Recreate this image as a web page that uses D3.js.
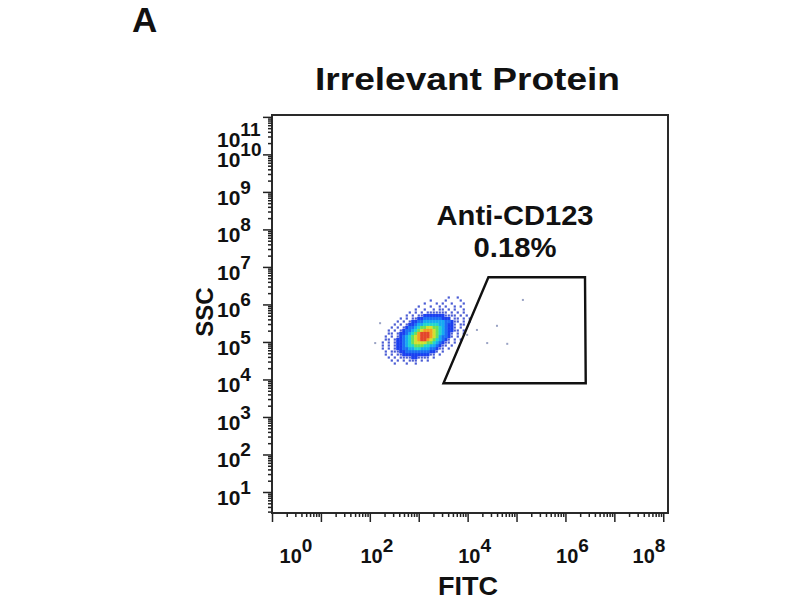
<!DOCTYPE html>
<html><head><meta charset="utf-8">
<script src="https://cdn.jsdelivr.net/npm/d3@7"></script>
<style>
body{margin:0;background:#fff;}
svg{display:block;}
text{font-family:"Liberation Sans",Arial,sans-serif;font-weight:bold;fill:#111;}
</style>
</head><body>
<svg id="chart" width="800" height="600"></svg>
<script>
// ---------- data ----------
const panelLabel = "A";
const chartTitle = "Irrelevant Protein";
const xAxisTitle = "FITC";
const yAxisTitle = "SSC";
const gateName = "Anti-CD123";
const gatePercent = "0.18%";
const xMajorExps = [0,1,2,3,4,5,6,7,8];
const xLabelExps = [0,2,4,6,8];
const yMajorExps = [1,2,3,4,5,6,7,8,9,10,11];
const yLabelExps = [1,2,3,4,5,6,7,8,9,10,11];
// gate vertices in log10 units (FITC, SSC)
const gateLogX = [4.425, 6.40, 6.415, 3.506];
const gateLogY = [6.725, 6.725, 3.899, 3.899];
// density grid (event density level 0-9), top-left cell at log10 (FITC, SSC)
const gridOriginLog = [2.049, 6.227];
const gridStepLog = [0.0613, 0.08];
const densityRows = [
  ".........................1..1.....",
  "...................1....1....1....",
  ".................1...1.1..1...1...",
  "...............1...1..1.1..1.1....",
  "..............1..1..1.11.1.1..1...",
  "............1.1.1.1111111.1.1.1...",
  "...........1.1.1122222221111.1.1..",
  ".........1.1.1122333333222.11.1.1.",
  "........1.1.12233444444433211.1.1.",
  ".......1.1.12234455555443221.11...",
  "......1.1.123345667766543221.1....",
  ".....1.1.12334567888765432211.1...",
  ".....11.1223456899987654321.1.1...",
  "....1.1.1234567899987643321.1.....",
  "....11.1223456789987654321.1.1....",
  "...1.1.1223456777766543211.1......",
  "...1.1.122345566655443211.1.......",
  "...1.1.12233445544433211.1........",
  "....1.1112233333333221.1..........",
  "....1.1.1122222222211.1...........",
  ".....1.1.1111221111.1.............",
  "......1.1.1.111.1.1...............",
  ".......1...1..1..................."
];
// isolated events (log10 FITC, log10 SSC)
const outlierLogX = [5.13, 4.60, 4.40, 4.81, 4.19, 3.99, 2.11, 2.21];
const outlierLogY = [6.12, 5.43, 4.97, 4.95, 5.32, 5.19, 4.97, 5.50];

// ---------- chart ----------
const svg = d3.select("#chart");
const L = 272, R = 668, T = 115, B = 513;
const x = d3.scaleLog().domain([1, Math.pow(10, 8.097)]).range([L, R]);
const y = d3.scaleLog().domain([Math.pow(10, 0.44), Math.pow(10, 11.05)]).range([B, T]);
const p10 = e => Math.pow(10, e);

const defs = svg.append("defs");
defs.append("clipPath").attr("id", "clip").append("rect")
  .attr("x", L).attr("y", T).attr("width", R - L).attr("height", B - T);
defs.append("filter").attr("id", "soft").attr("x", "-10%").attr("y", "-10%").attr("width", "120%").attr("height", "120%")
  .append("feGaussianBlur").attr("stdDeviation", 0.7);

const levelColor = d3.scaleOrdinal()
  .domain([1,2,3,4,5,6,7,8,9])
  .range(["#2a40cc","#1a3ff0","#1c6ef4","#18aaf2","#22d6cc","#6ae05a","#d2e02e","#f2a024","#e4462a"]);

// cells
const cells = [];
densityRows.forEach((row, r) => {
  for (let c = 0; c < row.length; c++) {
    const ch = row[c];
    if (ch >= "1" && ch <= "9") {
      cells.push({lx: gridOriginLog[0] + c * gridStepLog[0], ly: gridOriginLog[1] - r * gridStepLog[1], level: +ch});
    }
  }
});
cells.sort((a, b) => a.level - b.level);

const plot = svg.append("g").attr("clip-path", "url(#clip)");
const cloud = plot.append("g").attr("filter", "url(#soft)");
cloud.selectAll("rect.cell").data(cells).enter().append("rect")
  .attr("class", "cell")
  .attr("x", d => x(p10(d.lx)) + (d.level === 1 ? 0.5 : 0))
  .attr("y", d => y(p10(d.ly)) + (d.level === 1 ? 0.5 : 0))
  .attr("width", d => d.level === 1 ? 2.2 : x(p10(d.lx + gridStepLog[0])) - x(p10(d.lx)) + 0.3)
  .attr("height", d => d.level === 1 ? 2.2 : y(p10(d.ly - gridStepLog[1])) - y(p10(d.ly)) + 0.3)
  .attr("fill", d => levelColor(d.level))
  .attr("fill-opacity", d => d.level === 1 ? 0.85 : 1);

const outliers = outlierLogX.map((v, i) => ({lx: v, ly: outlierLogY[i]}));
plot.selectAll("rect.out").data(outliers).enter().append("rect")
  .attr("class", "out")
  .attr("x", d => x(p10(d.lx)) - 1).attr("y", d => y(p10(d.ly)) - 1)
  .attr("width", 2).attr("height", 2)
  .attr("fill", "#9aa3c4");

// gate
const gatePts = gateLogX.map((v, i) => [x(p10(v)), y(p10(gateLogY[i]))]);
plot.append("path")
  .attr("d", d3.line()(gatePts) + "Z")
  .attr("fill", "none").attr("stroke", "#111").attr("stroke-width", 2.4)
  .attr("stroke-linejoin", "miter");

// frame
svg.append("rect").attr("x", L).attr("y", T).attr("width", R - L).attr("height", B - T)
  .attr("fill", "none").attr("stroke", "#2a2a2a").attr("stroke-width", 2);

// ticks
function minorVals(scale, maxExp) {
  const [d0, d1] = scale.domain();
  const out = [];
  for (let e = -1; e <= maxExp; e++) for (let k = 2; k <= 9; k++) {
    const v = k * p10(e);
    if (v >= d0 && v <= d1) out.push(v);
  }
  return out;
}
function styleAxis(g) {
  g.select(".domain").remove();
  g.selectAll(".tick line").attr("stroke", "#222").attr("stroke-width", 1.5);
}
svg.append("g").attr("transform", `translate(0,${B})`)
  .call(d3.axisBottom(x).tickValues(xMajorExps.map(p10)).tickSize(9).tickFormat(""))
  .call(styleAxis);
svg.append("g").attr("transform", `translate(0,${B})`)
  .call(d3.axisBottom(x).tickValues(minorVals(x, 8)).tickSize(4).tickFormat(""))
  .call(styleAxis);
svg.append("g").attr("transform", `translate(${L},0)`)
  .call(d3.axisLeft(y).tickValues(yMajorExps.map(p10)).tickSize(9).tickFormat(""))
  .call(styleAxis);
svg.append("g").attr("transform", `translate(${L},0)`)
  .call(d3.axisLeft(y).tickValues(minorVals(y, 11)).tickSize(4).tickFormat(""))
  .call(styleAxis);

// tick labels
function powLabel(sel, e, supSize) {
  sel.append("tspan").text("10");
  sel.append("tspan").attr("dy", -11).attr("font-size", supSize).text(String(e));
}
xLabelExps.forEach(e => {
  const cx = Math.max(296, Math.min(649, x(p10(e)) + 7));
  const t = svg.append("text").attr("x", cx).attr("y", 563)
    .attr("text-anchor", "middle").attr("font-size", 20);
  powLabel(t, e, 19);
});
yLabelExps.forEach(e => {
  const by = Math.max(y(p10(e)) + 13, 147);
  const t = svg.append("text").attr("x", 217).attr("y", by)
    .attr("text-anchor", "start").attr("font-size", 21);
  powLabel(t, e, 19);
});

// titles
svg.append("text").attr("x", 132).attr("y", 32).attr("font-size", 35).text(panelLabel);
svg.append("text").attr("x", 467.5).attr("y", 90).attr("text-anchor", "middle")
  .attr("font-size", 32).attr("textLength", 305).attr("lengthAdjust", "spacingAndGlyphs").text(chartTitle);
svg.append("text").attr("x", 468).attr("y", 595).attr("text-anchor", "middle")
  .attr("font-size", 26).attr("textLength", 60).attr("lengthAdjust", "spacingAndGlyphs").text(xAxisTitle);
svg.append("text").attr("transform", "translate(213,312) rotate(-90)").attr("text-anchor", "middle")
  .attr("font-size", 24).text(yAxisTitle);
svg.append("text").attr("x", x(p10(4.97))).attr("y", 225).attr("text-anchor", "middle")
  .attr("font-size", 28).attr("textLength", 157).attr("lengthAdjust", "spacingAndGlyphs").text(gateName);
svg.append("text").attr("x", x(p10(4.97))).attr("y", 257).attr("text-anchor", "middle")
  .attr("font-size", 28).attr("textLength", 83).attr("lengthAdjust", "spacingAndGlyphs").text(gatePercent);
</script>
</body></html>
